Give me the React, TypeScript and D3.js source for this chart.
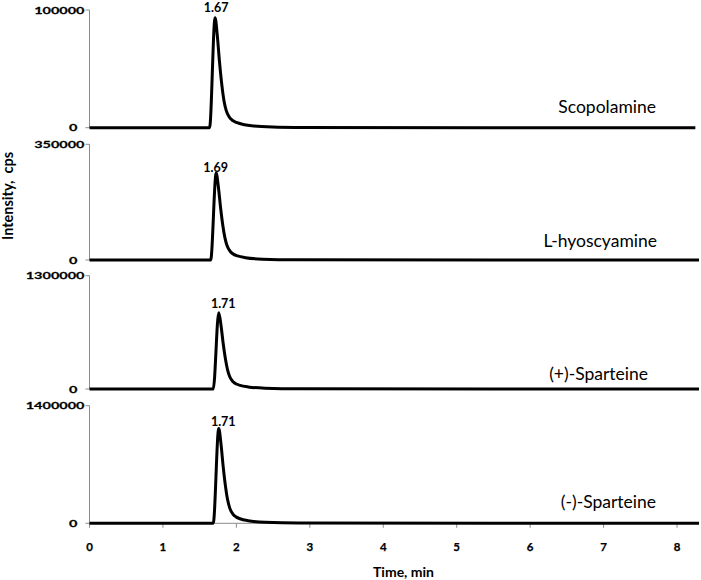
import React from "react";
import * as d3 from "d3";

// ---------- data ----------
const compounds = ["Scopolamine", "L-hyoscyamine", "(+)-Sparteine", "(-)-Sparteine"];
const peakLabels = ["1.67", "1.69", "1.71", "1.71"];
const yMaxValues = [100000, 350000, 1300000, 1400000];
const xTicks = [0, 1, 2, 3, 4, 5, 6, 7, 8];

const timesScopolamine = [0, 1.635, 1.71, 1.74, 1.77, 1.8, 1.83, 1.86, 1.905, 1.95, 2.0, 2.11, 2.34, 2.8, 8.25];
const valuesScopolamine = [0, 0, 93500, 78500, 56100, 37400, 23400, 15000, 8900, 6100, 4500, 2500, 940, 190, 0];

const timesHyoscyamine = [0, 1.65, 1.725, 1.755, 1.785, 1.815, 1.845, 1.875, 1.92, 1.965, 2.015, 2.125, 2.355, 2.8, 8.3];
const valuesHyoscyamine = [0, 0, 263000, 221000, 158000, 105000, 66000, 42000, 25000, 17100, 12600, 7100, 2600, 500, 0];

const timesPlusSparteine = [0, 1.685, 1.76, 1.79, 1.82, 1.85, 1.88, 1.91, 1.955, 2.0, 2.05, 2.16, 2.39, 2.85, 8.3];
const valuesPlusSparteine = [0, 0, 875000, 735000, 525000, 350000, 219000, 140000, 83000, 57000, 42000, 23600, 8800, 1750, 0];

const timesMinusSparteine = [0, 1.685, 1.76, 1.79, 1.82, 1.85, 1.88, 1.91, 1.955, 2.0, 2.05, 2.16, 2.39, 2.85, 8.3];
const valuesMinusSparteine = [0, 0, 1130000, 949000, 678000, 452000, 283000, 181000, 107000, 73500, 54200, 30500, 11300, 2250, 0];

const seriesTimes = [timesScopolamine, timesHyoscyamine, timesPlusSparteine, timesMinusSparteine];
const seriesValues = [valuesScopolamine, valuesHyoscyamine, valuesPlusSparteine, valuesMinusSparteine];

// ---------- layout ----------
const W = 701;
const H = 580;
const X0 = 89.5;
const X8 = 677;
const panelTops = [10, 144.3, 275.7, 405.7];
const panelBottoms = [127.7, 260, 389, 523.3];
const nameEnds = [656, 657, 648, 656];
const nameBaselines = [112.5, 247, 380, 508];
const labelDx = [1, -0.5, 4.5, 4.5];
const labelDy = [-5.5, -1.5, -5, -2];

const FONT = "Lato, 'Open Sans', sans-serif";
const AXIS_GRAY = "#8c8c8c";

export default function App() {
  const x = d3.scaleLinear().domain([0, 8]).range([X0, X8]);

  return (
    <svg
      width={W}
      height={H}
      viewBox={`0 0 ${W} ${H}`}
      style={{ position: "absolute", left: 0, top: 0, background: "#fff" }}
    >
      <rect x={0} y={0} width={W} height={H} fill="#fff" />
      {compounds.map((name, i) => {
        const y = d3.scaleLinear().domain([0, yMaxValues[i]]).range([panelBottoms[i], panelTops[i]]);
        const pts = seriesTimes[i].map((t, k) => [t, seriesValues[i][k]] as [number, number]);
        const line = d3
          .line<[number, number]>()
          .x((d) => x(d[0]))
          .y((d) => y(d[1]))
          .curve(d3.curveMonotoneX);
        const peakIdx = d3.maxIndex(seriesValues[i]);
        const px = x(seriesTimes[i][peakIdx]);
        const py = y(seriesValues[i][peakIdx]);
        const yTicks = [0, yMaxValues[i]];
        return (
          <g key={name}>
            {/* y axis */}
            <line x1={X0} x2={X0} y1={y(yMaxValues[i])} y2={y(0)} stroke={AXIS_GRAY} strokeWidth={1} />
            {yTicks.map((v) => (
              <g key={v}>
                <line x1={X0 - 4} x2={X0} y1={y(v)} y2={y(v)} stroke={AXIS_GRAY} strokeWidth={1} />
                <text
                  transform={`translate(${v === 0 ? 77.5 : 84.5},${y(v) + 3.6}) scale(1.42,1)`}
                  textAnchor="end"
                  fontFamily={FONT}
                  fontWeight="bold"
                  fontSize={10.2}
                  fill="#000"
                  stroke="#000"
                  strokeWidth={0.25}
                >
                  {v}
                </text>
              </g>
            ))}
            {/* x axis for last panel */}
            {i === compounds.length - 1 && (
              <g>
                <line x1={X0} x2={x(8.3)} y1={y(0)} y2={y(0)} stroke={AXIS_GRAY} strokeWidth={1} />
                {xTicks.map((t) => (
                  <g key={t}>
                    <line x1={x(t)} x2={x(t)} y1={y(0)} y2={y(0) + 4.5} stroke={AXIS_GRAY} strokeWidth={1} />
                    <text
                      x={x(t)}
                      y={550.7}
                      textAnchor="middle"
                      fontFamily={FONT}
                      fontWeight="bold"
                      fontSize={11.5}
                      fill="#000"
                      stroke="#000"
                      strokeWidth={0.25}
                    >
                      {t}
                    </text>
                  </g>
                ))}
              </g>
            )}
            {/* trace */}
            <path
              d={line(pts) || ""}
              fill="none"
              stroke="#000"
              strokeWidth={3}
              strokeLinejoin="round"
            />
            {/* peak label */}
            <text
              x={px + labelDx[i]}
              y={py + labelDy[i]}
              textAnchor="middle"
              fontFamily={FONT}
              fontWeight="bold"
              fontSize={12.5}
              fill="#000"
            >
              {peakLabels[i]}
            </text>
            {/* compound name */}
            <text
              x={nameEnds[i]}
              y={nameBaselines[i]}
              textAnchor="end"
              fontFamily={FONT}
              fontSize={17.5}
              fill="#000"
            >
              {name}
            </text>
          </g>
        );
      })}
      <text
        x={403.5}
        y={576.5}
        textAnchor="middle"
        fontFamily={FONT}
        fontWeight="bold"
        fontSize={14}
        fill="#000"
      >
        Time, min
      </text>
      <text
        transform="translate(13.3,196) rotate(-90)"
        textAnchor="middle"
        fontFamily={FONT}
        fontWeight="bold"
        fontSize={14.5}
        fill="#000"
        xmlSpace="preserve"
      >
        Intensity,  cps
      </text>
    </svg>
  );
}
